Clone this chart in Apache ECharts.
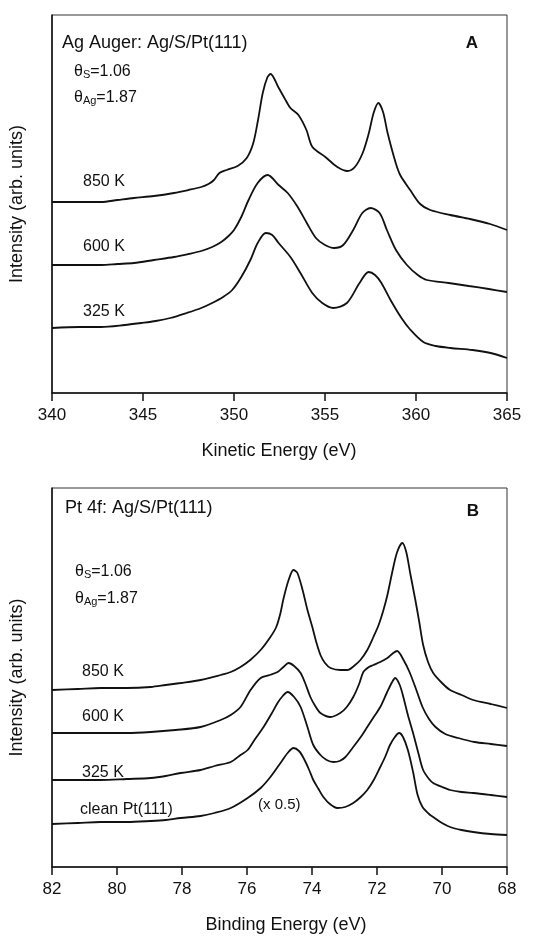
<!DOCTYPE html>
<html>
<head>
<meta charset="utf-8">
<script src="https://cdn.jsdelivr.net/npm/echarts@6/dist/echarts.min.js"></script>
<style>
  html, body { margin: 0; padding: 0; background: #fff; }
  #chart { width: 552px; height: 936px; }
</style>
</head>
<body>
<div id="chart"></div>
<script>
// Panel A: Ag MNN Auger spectra, [kinetic energy (eV), intensity (arb.)]
const auger850K = [
  [340,191],[341.5,191],[342.7,191],[343.6,193],[344.5,195],[345.6,197],[346.7,200],
  [347.5,203],[348.2,206],[348.6,209],[348.9,213],[349.2,220],[349.6,223],[350.2,227],
  [350.7,235],[351.06,250],[351.32,273],[351.58,300],[351.84,316],[352.01,319],
  [352.43,306],[352.77,295],[353.1,285],[353.54,278],[353.98,263],[354.31,246],
  [355.02,236],[355.68,226],[356.23,222],[356.64,226],[357.07,240],[357.41,260],
  [357.67,280],[357.93,290],[358.19,281],[358.44,260],[358.87,231],[359.13,218],
  [359.68,203],[360.23,189],[360.78,183],[361.88,178],[362.97,174],[364.07,169],[365,163]
];
const auger600K = [
  [340,128],[341.5,128],[342.7,128],[343.6,129],[344.5,130],[345.6,133],[346.7,136],
  [347.5,139],[348.2,142],[348.8,146],[349.3,151],[349.7,157],[350.0,163],[350.4,176],
  [350.8,193],[351.3,210],[351.85,218],[352.45,208],[352.95,200],[353.5,186],[354.0,170],
  [354.5,155],[355.0,148],[355.5,145],[356.0,148],[356.55,163],[357.05,180],[357.5,185],
  [358.0,180],[358.4,163],[358.9,143],[359.5,128],[360.1,118],[360.6,113],[361.8,110],
  [362.9,107],[364,104],[365,101]
];
const auger325K = [
  [340,65],[341.5,66],[342.7,66],[344.0,68],[344.9,70],[345.7,72],[346.5,75],[347.4,80],
  [348.2,85],[348.8,90],[349.4,96],[349.9,103],[350.4,116],[350.9,133],[351.3,150],
  [351.75,160],[352.1,158],[352.45,150],[353.1,136],[353.65,120],[354.3,100],[354.85,90],
  [355.45,85],[356.2,90],[356.9,110],[357.4,121],[357.75,118],[358.1,110],[358.6,93],
  [359.2,75],[359.7,63],[360.4,51],[361.1,47],[361.9,45],[363.1,43],[364.1,40],[365,35]
];

// Panel B: Pt 4f spectra, [binding energy (eV), intensity (arb.)]
const pt850K = [
  [82,177],[81.2,178],[80.5,179],[79.7,179],[78.96,180],[78.5,182],[78.04,184],[77.43,187],
  [76.81,192],[76.5,195],[76.2,200],[75.9,207],[75.58,217],[75.28,230],[75.1,240],
  [74.97,254],[74.88,268],[74.72,287],[74.57,297],[74.45,294],[74.29,277],[74.14,257],
  [73.99,240],[73.87,225],[73.74,212],[73.6,204],[73.43,199],[73.13,197],[72.91,197],
  [72.71,201],[72.51,207],[72.3,217],[72.11,230],[71.95,242],[71.81,256],[71.68,272],
  [71.53,295],[71.38,315],[71.22,324],[71.1,315],[70.98,294],[70.82,267],[70.7,245],
  [70.58,222],[70.43,205],[70.27,194],[70.0,184],[69.75,177],[69.4,172],[69.04,167],
  [68.5,163],[68,159]
];
const pt600K = [
  [82,134],[81.2,134],[80.5,134],[79.7,134],[78.96,135],[78.2,137],[77.43,140],[76.81,147],
  [76.5,152],[76.2,160],[75.89,177],[75.58,189],[75.3,192],[75.06,195],[74.88,200],
  [74.72,204],[74.55,201],[74.35,194],[74.2,183],[74.05,170],[73.9,161],[73.74,154],
  [73.43,150],[73.13,154],[72.93,160],[72.73,170],[72.55,183],[72.42,195],[72.25,200],
  [72.11,202],[71.9,205],[71.68,209],[71.5,214],[71.38,216],[71.2,208],[71.0,195],
  [70.8,178],[70.6,160],[70.4,148],[70.2,140],[69.9,133],[69.5,129],[69.0,125],
  [68.5,123],[68,121]
];
const pt325K = [
  [82,87],[81.2,87],[80.5,87],[79.7,88],[78.96,89],[78.5,91],[78.04,94],[77.43,97],
  [77.0,101],[76.5,105],[76.2,112],[75.98,117],[75.75,128],[75.49,140],[75.25,153],
  [75.06,164],[74.9,171],[74.75,175],[74.55,170],[74.35,160],[74.14,140],[73.96,122],
  [73.74,112],[73.55,107],[73.34,105],[73.15,106],[72.97,110],[72.73,120],[72.5,130],
  [72.3,140],[72.1,150],[71.9,160],[71.7,174],[71.55,184],[71.44,189],[71.3,182],
  [71.19,170],[71.05,152],[70.89,134],[70.72,113],[70.58,97],[70.4,88],[70.27,84],
  [70.0,80],[69.75,77],[69.4,75],[69.04,74],[68.5,72],[68,70]
];
const ptClean = [
  [82,43],[81.2,44],[80.5,45],[79.7,45],[78.96,46],[78.5,47],[78.04,49],[77.43,51],
  [77.0,54],[76.5,59],[75.98,69],[75.58,79],[75.28,90],[74.97,104],[74.75,114],
  [74.57,119],[74.4,116],[74.26,109],[74.1,98],[73.96,87],[73.8,78],[73.65,70],
  [73.45,63],[73.22,59],[72.98,60],[72.73,64],[72.5,70],[72.3,77],[72.1,87],[71.9,100],
  [71.75,110],[71.6,122],[71.45,130],[71.32,134],[71.2,130],[71.05,117],[70.89,95],
  [70.75,72],[70.6,60],[70.4,53],[70.27,50],[70.0,44],[69.75,40],[69.4,37],[69.04,35],
  [68.5,33],[68,32]
];

const kineticTicks = { min: 340, max: 365, interval: 5 };
const bindingTicks = { min: 68, max: 82, interval: 2 };

const FONT = '"Liberation Sans", Arial, Helvetica, sans-serif';
const INK = '#111';

const chart = echarts.init(document.getElementById('chart'), null, { renderer: 'canvas' });

function xAxisCfg(gridIndex, ticks, inverse) {
  return {
    type: 'value', gridIndex, min: ticks.min, max: ticks.max, interval: ticks.interval,
    inverse,
    axisLine: { show: true, onZero: false, lineStyle: { color: INK, width: 1.5 } },
    axisTick: { show: true, inside: false, length: 8, lineStyle: { color: INK, width: 1.5 } },
    axisLabel: { color: INK, fontSize: 17, fontFamily: FONT, margin: 14 },
    splitLine: { show: false }
  };
}
function yAxisCfg(gridIndex, max) {
  return {
    type: 'value', gridIndex, min: 0, max,
    name: 'Intensity (arb. units)', nameLocation: 'middle', nameGap: 26,
    nameTextStyle: { color: INK, fontSize: 18, fontFamily: FONT },
    axisLine: { show: true, lineStyle: { color: INK, width: 1.5 } },
    axisTick: { show: false }, axisLabel: { show: false }, splitLine: { show: false }
  };
}
function spectrum(data, gi) {
  return {
    type: 'line', xAxisIndex: gi, yAxisIndex: gi, data,
    showSymbol: false, smooth: 0.3,
    lineStyle: { color: INK, width: 1.8 }, silent: true
  };
}
function label(text, x, y, size, extra) {
  return {
    type: 'text', x, y,
    style: Object.assign({
      text, fill: INK, fontSize: size, fontFamily: FONT,
      align: 'left', verticalAlign: 'middle'
    }, extra || {})
  };
}
function theta(sub, value, x, y) {
  return {
    type: 'text', x, y,
    style: {
      text: '{t|θ}{s|' + sub + '}{t|=' + value + '}',
      fill: INK, fontFamily: FONT, align: 'left', verticalAlign: 'middle',
      rich: {
        t: { fontSize: 16, fontFamily: FONT, fill: INK, lineHeight: 18, verticalAlign: 'bottom' },
        s: { fontSize: 11, fontFamily: FONT, fill: INK, lineHeight: 8, verticalAlign: 'bottom' }
      }
    }
  };
}

chart.setOption({
  animation: false,
  backgroundColor: '#fff',
  grid: [
    { left: 51, right: 45, top: 15, height: 378, show: true, borderColor: '#333', borderWidth: 1 },
    { left: 51, right: 45, top: 488, height: 379, show: true, borderColor: '#333', borderWidth: 1 }
  ],
  xAxis: [xAxisCfg(0, kineticTicks, false), xAxisCfg(1, bindingTicks, true)],
  yAxis: [yAxisCfg(0, 378), yAxisCfg(1, 379)],
  series: [
    spectrum(auger850K, 0), spectrum(auger600K, 0), spectrum(auger325K, 0),
    spectrum(pt850K, 1), spectrum(pt600K, 1), spectrum(pt325K, 1), spectrum(ptClean, 1)
  ],
  graphic: [
    label('Ag Auger: Ag/S/Pt(111)', 62, 43, 18),
    label('A', 472, 43, 17, { fontWeight: 'bold', align: 'center' }),
    theta('S', '1.06', 74, 71),
    theta('Ag', '1.87', 74, 97),
    label('850 K', 83, 182, 16),
    label('600 K', 83, 247, 16),
    label('325 K', 83, 312, 16),
    label('Kinetic Energy (eV)', 279, 451, 18, { align: 'center' }),

    label('Pt 4f: Ag/S/Pt(111)', 65, 508, 18),
    label('B', 473, 511, 17, { fontWeight: 'bold', align: 'center' }),
    theta('S', '1.06', 75, 571),
    theta('Ag', '1.87', 75, 598),
    label('850 K', 82, 672, 16),
    label('600 K', 82, 717, 16),
    label('325 K', 82, 773, 16),
    label('clean Pt(111)', 80, 810, 16),
    label('(x 0.5)', 258, 805, 15),
    label('Binding Energy (eV)', 286, 925, 18, { align: 'center' })
  ]
});
</script>
</body>
</html>
